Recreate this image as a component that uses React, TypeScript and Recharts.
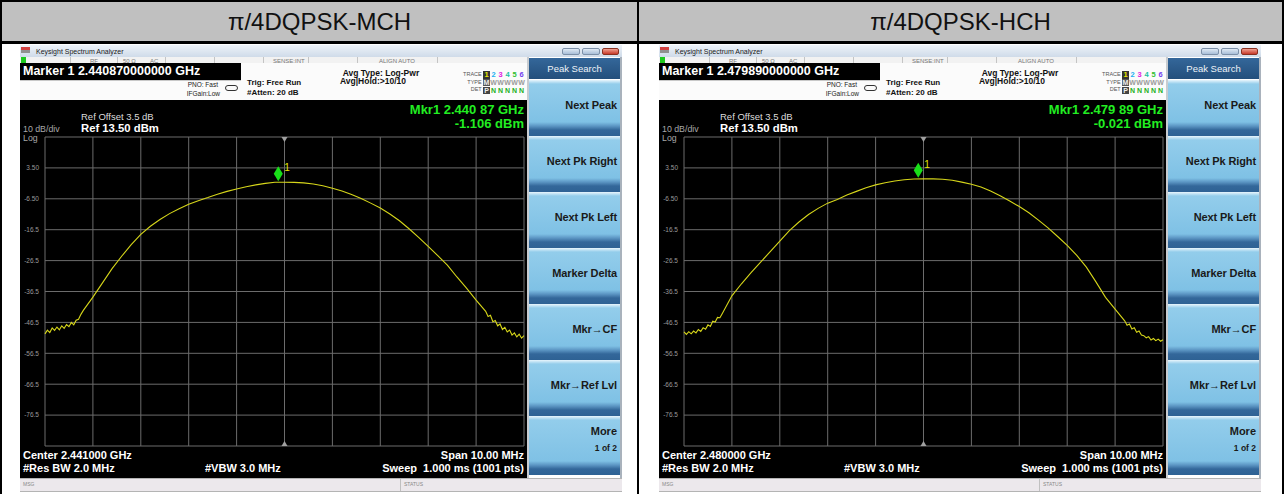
import React from 'react'
import { LineChart, Line, XAxis, YAxis, CartesianGrid, ReferenceDot } from 'recharts'

const FONT = '"Liberation Sans", Arial, sans-serif'

// frequency offset from center, MHz (denser in the noisy skirts)
const freqOffsets = [
  -5, -4.95, -4.9, -4.85, -4.8, -4.75, -4.7, -4.65, -4.6, -4.55, -4.5, -4.45, -4.4, -4.35, -4.3, -4.25, -4.2,
  -4, -3.8, -3.6, -3.4, -3.2, -3, -2.8, -2.6, -2.4, -2.2, -2, -1.8, -1.6, -1.4, -1.2, -1, -0.8, -0.6, -0.4, -0.2,
  0, 0.2, 0.4, 0.6, 0.8, 1, 1.2, 1.4, 1.6, 1.8, 2, 2.2, 2.4, 2.6, 2.8, 3, 3.2, 3.4, 3.6, 3.8, 4,
  4.2, 4.25, 4.3, 4.35, 4.4, 4.45, 4.5, 4.55, 4.6, 4.65, 4.7, 4.75, 4.8, 4.85, 4.9, 4.95, 5,
]

// trace level, dBm
const mchLevels = [
  -50.2, -49.0, -49.8, -48.3, -49.1, -48.0, -48.9, -47.6, -48.4, -47.2, -47.9, -46.5, -47.3, -45.8, -45.5, -43.9, -42.6,
  -38.3, -33.7, -29.1, -25.1, -21.3, -18.0, -15.4, -13.2, -11.3, -9.7, -8.3, -7.1, -6.1, -5.0, -4.1, -3.3, -2.6, -2.0, -1.5, -1.15,
  -1.12, -1.2, -1.35, -1.7, -2.3, -3.1, -4.0, -5.1, -6.4, -7.9, -9.5, -11.4, -13.6, -16.2, -19.0, -21.9, -24.9, -28.0, -31.8, -35.4, -39.3,
  -42.9, -44.6, -44.2, -46.3, -45.9, -47.6, -47.0, -48.8, -48.1, -49.6, -49.0, -50.6, -49.9, -51.2, -50.3, -51.6, -50.8,
]

const hchLevels = [
  -49.6, -50.4, -49.5, -50.2, -49.3, -49.9, -48.8, -49.4, -48.2, -48.7, -47.3, -47.8, -46.1, -46.4, -44.9, -45.0, -43.6,
  -37.9, -34.0, -30.4, -27.0, -23.6, -20.2, -16.8, -14.0, -11.6, -9.6, -7.9, -6.7, -5.3, -4.1, -2.9, -2.0, -1.3, -0.75, -0.35, -0.08,
  -0.03, -0.05, -0.15, -0.5, -1.1, -1.8, -2.7, -4.0, -5.5, -7.2, -9.0, -11.0, -13.4, -15.9, -18.7, -21.6, -24.8, -28.6, -33.4, -38.4, -42.2,
  -46.0, -47.4, -47.0, -48.6, -48.2, -49.7, -49.3, -50.6, -50.8, -51.5, -51.1, -52.2, -51.7, -52.4, -51.9, -52.6, -52.1,
]

const gridFreqTicks = [-5, -4, -3, -2, -1, 0, 1, 2, 3, 4, 5]
const levelTicks = [13.5, 3.5, -6.5, -16.5, -26.5, -36.5, -46.5, -56.5, -66.5, -76.5, -86.5]
const levelTickLabels = ['', '3.50', '-6.50', '-16.5', '-26.5', '-36.5', '-46.5', '-56.5', '-66.5', '-76.5', '']

const softkeys = [['Next Peak'], ['Next Pk Right'], ['Next Pk Left'], ['Marker Delta'], ['Mkr\u2192CF'], ['Mkr\u2192Ref Lvl'], ['More', '1 of 2']]
const traceNumbers = ['1', '2', '3', '4', '5', '6']
const traceColors = ['#e8e800', '#20b0f0', '#e020e0', '#20c0a0', '#30c030', '#7040f0']

const titles = ['\u03c0/4DQPSK-MCH', '\u03c0/4DQPSK-HCH']
const markerReadouts = ['2.440870000000', '2.479890000000']
const mkrFreqTexts = ['2.440 87 GHz', '2.479 89 GHz']
const mkrLevelTexts = ['-1.106 dBm', '-0.021 dBm']
const centerTexts = ['2.441000 GHz', '2.480000 GHz']
const markerOffsets = [-0.13, -0.11]
const markerLevels = [-1.106, -0.021]

const panels = [
  { title: titles[0], marker: markerReadouts[0], mkrFreq: mkrFreqTexts[0], mkrLevel: mkrLevelTexts[0], center: centerTexts[0], mx: markerOffsets[0], my: markerLevels[0], levels: mchLevels },
  { title: titles[1], marker: markerReadouts[1], mkrFreq: mkrFreqTexts[1], mkrLevel: mkrLevelTexts[1], center: centerTexts[1], mx: markerOffsets[1], my: markerLevels[1], levels: hchLevels },
]

type Panel = typeof panels[0]

const SW = 602 // screenshot width

function T({ x, y, s, c, b, right, ls, children }: { x: number; y: number; s: number; c: string; b?: boolean; right?: boolean; ls?: number; children: React.ReactNode }) {
  const st: React.CSSProperties = {
    position: 'absolute', top: y, fontSize: s, lineHeight: 1, color: c,
    fontWeight: b ? 'bold' : 'normal', whiteSpace: 'pre', letterSpacing: ls,
  }
  if (right) st.right = SW - x
  else st.left = x
  return <div style={st}>{children}</div>
}

function Box({ x, y, w, h, bg, extra }: { x: number; y: number; w: number; h: number; bg: string; extra?: React.CSSProperties }) {
  return <div style={{ position: 'absolute', left: x, top: y, width: w, height: h, background: bg, ...extra }} />
}

const centerTick = (down: boolean) => (props: any) => {
  const { cx, cy } = props
  const pts = down ? `${cx - 3},${cy} ${cx + 3},${cy} ${cx},${cy + 5}` : `${cx - 3},${cy} ${cx + 3},${cy} ${cx},${cy - 5}`
  return <polygon points={pts} fill="#a0a0a0" />
}

const markerShape = (props: any) => {
  const { cx, cy } = props
  return (
    <g>
      <polygon points={`${cx},${cy - 16} ${cx + 4.5},${cy - 8.5} ${cx},${cy - 1} ${cx - 4.5},${cy - 8.5}`} fill="#18e018" />
      <text x={cx + 6} y={cy - 11} fill="#e8e800" fontSize={10} fontFamily={FONT}>1</text>
    </g>
  )
}

function Screen({ x0, p }: { x0: number; p: Panel }) {
  const data = freqOffsets.map((f, i) => ({ f, level: p.levels[i] }))
  const dividers = [49.7, 97, 144.7, 194, 243, 288, 336.7, 416.7]
  return (
    <div style={{ position: 'absolute', left: x0, top: 45, width: SW, height: 449, overflow: 'hidden', fontFamily: FONT }}>
      {/* title bar */}
      <Box x={0} y={0} w={SW} h={12} bg="linear-gradient(#eef3f9,#cfdbe9)" />
      <Box x={1} y={2} w={9} h={3} bg="#d04040" />
      <Box x={1} y={5} w={9} h={3} bg="#909090" />
      <T x={16} y={2.5} s={7} c="#1a1a1a">Keysight Spectrum Analyzer</T>
      <Box x={542} y={3} w={18} h={7} bg="linear-gradient(#dfe9f4,#a9bfd8)" extra={{ border: '1px solid #7d90a8', borderRadius: 2, boxSizing: 'border-box' }} />
      <Box x={562} y={3} w={18} h={7} bg="linear-gradient(#dfe9f4,#a9bfd8)" extra={{ border: '1px solid #7d90a8', borderRadius: 2, boxSizing: 'border-box' }} />
      <Box x={582} y={3} w={17} h={7} bg="linear-gradient(#f0a090,#c83a2a)" extra={{ border: '1px solid #8a3020', borderRadius: 2, boxSizing: 'border-box' }} />

      {/* status row */}
      <Box x={0} y={12} w={508} h={6} bg="#f2f2f2" />
      <Box x={0.7} y={12} w={5} h={6} bg="#1ec81e" />
      {dividers.map((d) => <Box key={d} x={d} y={12} w={1} h={6} bg="#c4c4c4" />)}
      <T x={70} y={12.6} s={6} c="#777">RF</T>
      <T x={103} y={12.6} s={6} c="#777">50 Ω</T>
      <T x={130} y={12.6} s={6} c="#777">AC</T>
      <T x={253} y={12.6} s={6} c="#777">SENSE:INT</T>
      <T x={359} y={12.6} s={6} c="#777">ALIGN AUTO</T>

      {/* marker + info rows */}
      <Box x={0} y={18} w={508} h={37} bg="#fbfbfb" />
      <Box x={0} y={18} w={221} h={16.5} bg="#000" />
      <div style={{ position: 'absolute', left: 3, top: 18, height: 16.5, lineHeight: '16.5px', fontSize: 12.5, fontWeight: 'bold', color: '#fff', whiteSpace: 'pre' }}>
        {'Marker 1 ' + p.marker + ' GHz'}
      </div>
      <Box x={0} y={34.5} w={221} h={1} bg="#c8c8c8" />
      <T x={198} y={37.2} s={6.5} c="#222" right>PNO: Fast</T>
      <T x={200} y={46.2} s={6.5} c="#222" right>IFGain:Low</T>
      <Box x={205} y={40} w={13} h={6} bg="transparent" extra={{ border: '1px solid #333', borderRadius: 3, boxSizing: 'border-box' }} />
      <T x={227} y={34.4} s={8} c="#111" b>Trig: Free Run</T>
      <T x={227} y={44} s={8} c="#111" b>#Atten: 20 dB</T>
      <T x={322.7} y={23.8} s={8.5} c="#111" b>Avg Type: Log-Pwr</T>
      <T x={320} y={32.3} s={8.5} c="#111" b>Avg|Hold:&gt;10/10</T>
      <T x={461.7} y={26.5} s={5.5} c="#555" right>TRACE</T>
      <T x={461.7} y={34.5} s={5.5} c="#555" right>TYPE</T>
      <T x={461.7} y={42} s={5.5} c="#555" right>DET</T>
      {traceNumbers.map((n, i) => (
        <div key={'n' + n} style={{ position: 'absolute', left: 463 + i * 7, top: 26, width: 7, height: 7.5, background: i === 0 ? '#333' : 'transparent', color: traceColors[i], fontSize: 7.5, fontWeight: 'bold', lineHeight: '7.5px', textAlign: 'center' }}>{n}</div>
      ))}
      {traceNumbers.map((n, i) => (
        <div key={'t' + n} style={{ position: 'absolute', left: 463 + i * 7, top: 34, width: 7, height: 7, background: i === 0 ? '#555' : 'transparent', color: i === 0 ? '#eee' : '#9a9a9a', fontSize: 7, fontWeight: 'bold', lineHeight: '7px', textAlign: 'center' }}>{i === 0 ? 'M' : 'W'}</div>
      ))}
      {traceNumbers.map((n, i) => (
        <div key={'d' + n} style={{ position: 'absolute', left: 463 + i * 7, top: 41.5, width: 7, height: 7, background: i === 0 ? '#444' : 'transparent', color: i === 0 ? '#eee' : '#22b022', fontSize: 7, fontWeight: 'bold', lineHeight: '7px', textAlign: 'center' }}>{i === 0 ? 'P' : 'N'}</div>
      ))}

      {/* black display */}
      <Box x={0} y={55} w={507} h={378} bg="#000" />
      <T x={61} y={66.8} s={9.5} c="#dcdcdc">Ref Offset 3.5 dB</T>
      <T x={3} y={80} s={8.8} c="#a8a8a8">10 dB/div</T>
      <T x={61} y={77.5} s={11.3} c="#fff" b>Ref 13.50 dBm</T>
      <T x={3} y={88.5} s={8.8} c="#a8a8a8">Log</T>
      <T x={504} y={58.2} s={13} c="#22ee22" b right>{'Mkr1 ' + p.mkrFreq}</T>
      <T x={504} y={71.6} s={13} c="#22ee22" b right>{p.mkrLevel}</T>

      <div style={{ position: 'absolute', left: 0, top: 85 }}>
        <LineChart width={507} height={320} data={data} margin={{ top: 7, right: 3, bottom: 4, left: 0 }}>
          <CartesianGrid stroke="#6c6c6c" strokeWidth={1} />
          <XAxis dataKey="f" type="number" domain={[-5, 5]} ticks={gridFreqTicks} hide />
          <YAxis
            type="number"
            domain={[-86.5, 13.5]}
            ticks={levelTicks}
            interval={0}
            width={25}
            axisLine={false}
            tickLine={false}
            tickSize={0}
            tickMargin={6}
            tick={{ fill: '#9a9a9a', fontSize: 6.5, fontFamily: FONT }}
            tickFormatter={(v: number) => levelTickLabels[levelTicks.indexOf(v)] ?? ''}
          />
          <Line dataKey="level" type="linear" stroke="#d6d61a" strokeWidth={1.1} dot={false} isAnimationActive={false} />
          <ReferenceDot x={0} y={13.5} r={0} shape={centerTick(true)} />
          <ReferenceDot x={0} y={-86.5} r={0} shape={centerTick(false)} />
          <ReferenceDot x={p.mx} y={p.my} r={0} shape={markerShape} />
        </LineChart>
      </div>

      <T x={3} y={404.6} s={11} c="#fff" b>{'Center ' + p.center}</T>
      <T x={504} y={404.6} s={11} c="#fff" b right>Span 10.00 MHz</T>
      <T x={3} y={417.6} s={11} c="#fff" b>#Res BW 2.0 MHz</T>
      <T x={185} y={417.6} s={11} c="#fff" b>#VBW 3.0 MHz</T>
      <T x={504} y={417.6} s={11} c="#fff" b right>{'Sweep  1.000 ms (1001 pts)'}</T>

      {/* separator + softkey panel */}
      <Box x={507} y={12} w={2} h={421} bg="#c8ccd0" />
      <Box x={509} y={13} w={91} h={21} bg="linear-gradient(#34679a,#244f7c)" />
      <div style={{ position: 'absolute', left: 509, top: 13, width: 91, height: 21, lineHeight: '21px', textAlign: 'center', color: '#eef3f8', fontSize: 9.5 }}>Peak Search</div>
      {softkeys.map((k, i) => {
        const top = 35 + i * 56
        const h = i === softkeys.length - 1 ? 59 : 56
        return (
          <div key={k[0]} style={{ position: 'absolute', left: 509, top, width: 91, height: h, background: `linear-gradient(#e8f5fc 0px, #93cdeb 4px, #7fc1e5 ${h - 14}px, #5c96c4 ${h - 10}px, #33679a ${h - 6}px, #2e6294 ${h}px)` }}>
            {k.length === 1 ? (
              <div style={{ position: 'absolute', right: 3, top: 19.8, fontSize: 11, fontWeight: 'bold', color: '#1a1a1a', lineHeight: 1, whiteSpace: 'pre', letterSpacing: -0.1 }}>{k[0]}</div>
            ) : (
              <>
                <div style={{ position: 'absolute', right: 3, top: 9.8, fontSize: 11, fontWeight: 'bold', color: '#1a1a1a', lineHeight: 1 }}>{k[0]}</div>
                <div style={{ position: 'absolute', right: 3, top: 28, fontSize: 8.5, fontWeight: 'bold', color: '#1a1a1a', lineHeight: 1 }}>{k[1]}</div>
              </>
            )}
          </div>
        )
      })}
      <Box x={600} y={12} w={2} h={421} bg="#a9b2bc" />

      {/* message bar */}
      <Box x={0} y={433} w={SW} h={14} bg="#ece8ec" extra={{ borderTop: '1px solid #b4b4b4', borderBottom: '1px solid #b4b4b4', boxSizing: 'border-box' }} />
      <Box x={380} y={434} w={1} h={12} bg="#c0c0c0" />
      <T x={3} y={437} s={5} c="#888">MSG</T>
      <T x={384} y={437} s={5} c="#888">STATUS</T>
    </div>
  )
}

export default function App() {
  return (
    <div style={{ position: 'absolute', left: 0, top: 0, width: 1284, height: 494, background: '#fff', overflow: 'hidden', fontFamily: FONT }}>
      <Box x={0} y={0} w={1284} h={42} bg="#c0c0c0" />
      <Box x={0} y={0} w={1284} h={2} bg="#000" />
      <Box x={0} y={41} w={1284} h={3} bg="#000" />
      <Box x={0} y={0} w={2} h={494} bg="#000" />
      <Box x={1282} y={0} w={2} h={494} bg="#000" />
      <Box x={637} y={0} w={2} h={494} bg="#000" />
      <div style={{ position: 'absolute', left: 2, top: 2, width: 635, height: 39, lineHeight: '39px', textAlign: 'center', fontSize: 24, color: '#111' }}>{panels[0].title}</div>
      <div style={{ position: 'absolute', left: 639, top: 2, width: 643, height: 39, lineHeight: '39px', textAlign: 'center', fontSize: 24, color: '#111' }}>{panels[1].title}</div>
      <Screen x0={20} p={panels[0]} />
      <Screen x0={659} p={panels[1]} />
    </div>
  )
}
